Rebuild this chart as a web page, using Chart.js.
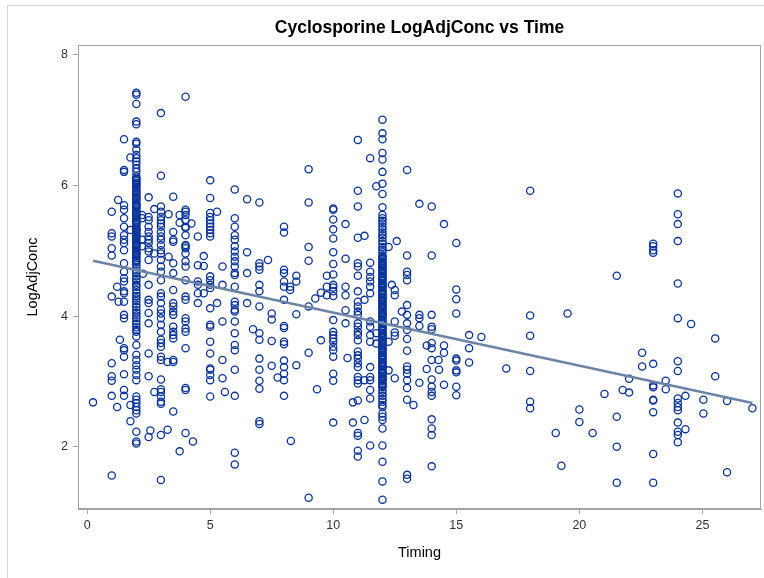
<!DOCTYPE html>
<html>
<head>
<meta charset="utf-8">
<script src="https://cdn.jsdelivr.net/npm/chart.js@4"></script>
<style>
  html, body { margin: 0; padding: 0; background: #fff; }
  #wrap { position: relative; width: 764px; height: 578px; overflow: hidden; }
  #frame { position: absolute; left: 7px; top: 5px; width: 800px; height: 600px; border: 1px solid #d6d6d6; }
  canvas { position: absolute; left: 0; top: 0; }
</style>
</head>
<body>
<div id="wrap">
  <div id="frame"></div>
  <canvas id="grafico" width="764" height="578"></canvas>
</div>
<script>
// LogAdjConc por columna de Timing
const y_t1 = [5.60, 5.27, 5.22, 5.04, 4.93, 4.30, 3.28, 3.08, 3.01, 2.78, 1.56];
const y_t1_5 = [6.71, 6.24, 6.21, 5.70, 5.63, 5.50, 5.37, 5.24, 5.17, 5.12, 5.01, 4.81, 4.68, 4.58, 4.53, 4.38, 4.35, 4.22, 4.02, 3.97, 3.51, 3.48, 3.38, 3.11, 2.87, 2.78];
const y_t2 = [7.42, 7.39, 7.25, 6.98, 6.94, 6.67, 6.64, 6.55, 6.47, 6.42, 6.37, 6.32, 6.26, 6.21, 6.14,
    6.09, 6.04, 6.01, 5.95, 5.92, 5.86, 5.83, 5.79, 5.73, 5.70, 5.66, 5.60, 5.57, 5.53, 5.47, 5.44, 5.40, 5.34, 5.31, 5.27,
    5.22, 5.18, 5.12, 5.09, 5.05, 4.99, 4.96, 4.92, 4.86, 4.83, 4.79, 4.75, 4.70, 4.66, 4.61, 4.57, 4.53, 4.48, 4.45, 4.40,
    4.35, 4.31, 4.27, 4.23, 4.18, 4.14, 4.09, 4.05, 4.01, 3.97, 3.92, 3.88, 3.83, 3.79, 3.76,
    3.69, 3.56, 3.41, 3.33, 3.25, 3.18, 3.10, 3.02, 2.77, 2.72, 2.67, 2.61, 2.56, 2.51, 2.23, 2.08, 2.05];
// valores repetidos en la parte más cargada de la columna de 2 h
const y_t2_b = [6.11, 6.07, 6.02, 5.98, 5.90, 5.88, 5.81, 5.76, 5.71, 5.68, 5.63, 5.59, 5.55, 5.50, 5.45, 5.42, 5.37, 5.33,
    5.29, 5.24, 5.20, 5.15, 5.10, 5.07, 5.02, 4.97, 4.94, 4.89, 4.85];
const y_t2_5 = [5.82, 5.52, 5.47, 5.37, 5.29, 5.22, 5.17, 5.12, 5.04, 4.99, 4.86, 4.48, 4.25, 4.20, 4.05, 3.89, 3.43, 3.08, 2.15];
const y_t3 = [7.11, 6.15, 5.68, 5.60, 5.52, 5.47, 5.42, 5.37, 5.29, 5.22, 5.17, 5.09, 5.01, 4.96, 4.86, 4.76, 4.68, 4.55, 4.35, 4.30,
    4.20, 4.10, 4.04, 3.97, 3.87, 3.76, 3.64, 3.59, 3.53, 3.38, 3.33, 3.03, 2.88, 2.84, 2.77, 2.69, 2.66, 2.18, 1.49];
const y_t3_5 = [5.83, 5.29, 5.17, 5.14, 4.81, 4.66, 4.40, 4.20, 4.15, 4.07, 4.02, 3.84, 3.76, 3.71, 3.66, 3.33, 3.30, 2.54];
const y_t4 = [7.36, 5.63, 5.60, 5.55, 5.47, 5.37, 5.35, 5.24, 5.09, 5.07, 5.04, 4.96, 4.84, 4.76, 4.55, 4.30, 4.25, 3.97, 3.92, 3.81, 3.76, 3.51, 2.90, 2.87, 2.21];
const y_t4_5 = [5.22, 4.78, 4.53, 4.48, 4.35, 4.20];
const y_t5 = [6.08, 5.81, 5.58, 5.52, 5.47, 5.42, 5.37, 5.32, 5.27, 5.22, 4.61, 4.55, 4.48, 4.43, 4.12, 3.87, 3.84, 3.61, 3.43, 3.20, 3.18, 3.10, 3.02, 2.77];
const y_t5_5 = [4.76, 4.48, 3.92, 3.33, 3.05];
const y_t6 = [5.94, 5.50, 5.37, 5.24, 5.17, 5.07, 4.99, 4.91, 4.84, 4.76, 4.66, 4.63, 4.45, 4.22, 4.17, 4.10, 4.07, 3.92, 3.74, 3.56, 3.48, 3.18, 2.78, 1.91, 1.73];
const y_t6_5 = [5.79, 4.98, 4.66, 4.20];
const y_t7 = [5.74, 4.81, 4.76, 4.71, 4.48, 4.38, 4.15, 3.74, 3.64, 3.35, 3.18, 3.01, 2.89, 2.39, 2.35];
const y_t7_5 = [4.04, 3.95, 3.62, 3.24];
const y_t8 = [5.37, 5.28, 4.71, 4.66, 4.53, 4.45, 4.25, 3.85, 3.82, 3.61, 3.57, 3.32, 3.22, 3.12, 3.02, 2.78];
const y_t8_5 = [4.62, 4.53, 4.03, 3.25];
const y_t9 = [6.25, 5.74, 5.06, 4.85, 4.15, 3.44, 1.22];
const y_t10 = [5.65, 5.63, 5.48, 5.33, 5.19, 4.98, 4.80, 4.64, 4.48, 4.44, 4.38, 4.31, 3.94, 3.76, 3.71, 3.66, 3.61, 3.53, 3.48, 3.38, 3.12, 3.01, 2.37];
const y_t10_5 = [5.41, 4.88, 4.45, 4.32, 4.09, 3.89];
const y_t11 = [6.70, 5.92, 5.68, 5.20, 4.81, 4.76, 4.62, 4.38, 4.22, 4.15, 4.07, 4.02, 3.89, 3.84, 3.76, 3.71, 3.63, 3.46, 3.40, 3.35,
    3.28, 3.22, 3.07, 3.02, 2.97, 2.71, 2.21, 2.17, 1.94, 1.85];
const y_t11_5 = [6.42, 4.82, 4.68, 4.60, 4.53, 4.45, 4.35, 3.92, 3.84, 3.71, 3.61, 3.22, 3.07, 3.02, 2.87, 2.74, 2.02];
const y_t12 = [7.01, 6.80, 6.71, 6.50, 6.40, 6.21, 6.03, 5.87, 5.67, 5.55,
    5.50, 5.46, 5.42, 5.37, 5.33, 5.28, 5.24, 5.20, 5.15, 5.11, 5.06, 5.02, 4.98, 4.93, 4.89, 4.84, 4.80, 4.76, 4.71, 4.67,
    4.62, 4.58, 4.54, 4.49, 4.45, 4.40, 4.36, 4.32, 4.27, 4.23, 4.18, 4.14, 4.10, 4.05, 4.01, 3.96, 3.92, 3.88, 3.83, 3.79,
    3.74, 3.70, 3.66, 3.61, 3.57, 3.52, 3.48, 3.44, 3.39, 3.35, 3.30, 3.26, 3.22, 3.17, 3.13, 3.08, 3.04, 3.00, 2.95, 2.91,
    2.86, 2.82, 2.78, 2.73, 2.69, 2.64, 2.61,
    2.51, 2.46, 2.41, 2.28, 2.02, 1.77, 1.47, 1.19];
// valores repetidos en la parte más cargada de la columna de 12 h
const y_t12_b = [4.91, 4.87, 4.82, 4.78, 4.73, 4.69, 4.65, 4.60, 4.56, 4.51, 4.47, 4.43, 4.38, 4.34, 4.29, 4.25, 4.21, 4.16,
    4.12, 4.07, 4.03, 3.99, 3.94, 3.90, 3.85, 3.81, 3.77, 3.72, 3.68, 3.63, 3.59, 3.55, 3.50, 3.46, 3.41, 3.37, 3.33, 3.28,
    3.24, 3.19, 3.15, 3.11, 3.06, 3.02, 2.97, 2.93];
const y_t12_5 = [4.40, 4.32, 3.92, 3.75, 3.70, 3.05];
const y_t13 = [6.24, 4.93, 4.68, 4.63, 4.55, 4.17, 4.02, 3.89, 3.79, 3.65, 3.47, 3.23, 3.18, 3.12, 3.02, 2.90, 2.72, 1.57, 1.51];
const y_t13_5 = [5.72, 4.02, 3.97, 3.85, 2.98];
const y_t14 = [5.68, 4.93, 4.02, 3.84, 3.80, 3.59, 3.51, 3.33, 3.03, 2.92, 2.84, 2.78, 2.42, 2.28, 2.18, 1.70];
const y_t14_5 = [5.41, 3.55, 3.44, 2.95];
const y_t15 = [5.12, 4.41, 4.26, 4.04, 3.35, 3.32, 3.17, 3.14, 2.92, 2.79];
const y_t18 = [5.92, 4.01, 3.70, 3.16, 2.69, 2.59];
const y_t23 = [5.11, 5.07, 5.01, 4.97, 3.27, 2.94, 2.91, 2.72, 2.71, 2.53, 1.89, 1.45];
const y_t24 = [5.88, 5.56, 5.41, 5.15, 4.50, 3.97, 3.31, 3.16, 2.74, 2.67, 2.61, 2.56, 2.37, 2.23, 2.18, 2.07];

// Puntos sueltos fuera de las columnas
const otherX = [0.24, 1.76, 1.26, 1.76, 2.23, 2.23, 2.23, 2.23, 1.22, 1.22, 1.33, 1.28, 1.76, 1.76, 2.27,
    2.57, 2.73, 2.73, 2.73, 3.27, 3.27, 3.31, 3.31, 3.76, 3.76, 3.76, 4.24, 4.30, 4.74, 4.74, 4.74,
    5.28, 5.28, 5.60, 6.74, 7.35, 7.74, 8.25, 8.25, 8.28, 9.27, 9.34, 9.50, 9.50, 9.74, 9.74, 9.74,
    10.58, 10.80, 10.80, 11.27, 11.27, 11.27, 11.27, 11.75, 11.75, 11.75, 12.25, 12.25, 12.25, 12.38,
    12.58, 12.79, 13.26, 13.80, 13.80, 14.28, 14.30, 15.52, 15.52, 15.52, 16.02, 17.03,
    19.04, 19.27, 19.52, 20.00, 20.00, 20.54, 21.02, 21.52, 21.52, 21.52, 21.52, 21.76, 22.02, 22.02,
    22.55, 22.55, 23.51, 23.51, 24.31, 24.31, 24.54, 25.04, 25.04, 25.52, 25.52, 26.00, 26.00, 27.03];
const otherY = [2.68, 6.43, 5.78, 5.32, 5.55, 5.50, 5.17, 5.07, 4.45, 2.61, 3.64, 4.22, 2.64, 2.39, 4.65,
    2.25, 2.84, 5.64, 4.96, 2.26, 3.30, 5.56, 4.91, 5.55, 5.43, 1.93, 5.42, 2.08, 4.92, 4.77, 4.35,
    5.60, 4.20, 2.84, 3.80, 4.86, 3.06, 4.45, 4.40, 2.09, 4.27, 2.88, 4.36, 3.63, 4.62, 4.45, 4.32,
    3.36, 2.68, 2.37, 5.23, 2.41, 3.02, 4.25, 5.99, 3.58, 3.74, 5.06, 3.17, 3.61, 4.48,
    5.15, 4.07, 2.64, 3.55, 3.19, 3.33, 3.18, 3.71, 3.51, 3.29, 3.68, 3.20,
    2.21, 1.71, 4.04, 2.57, 2.38, 2.21, 2.81, 4.62, 2.46, 2.00, 1.45, 2.87, 2.83, 3.04,
    3.44, 3.23, 3.01, 2.88, 2.78, 2.27, 3.88, 2.72, 2.51, 3.66, 3.08, 2.70, 1.61, 2.59];

// Recta de regresión
const fitX = [0.24, 27.03];
const fitY = [4.85, 2.67];

// Ejes
const xTicks = [0, 5, 10, 15, 20, 25];
const yTicks = [2, 4, 6, 8];

const puntos = [];
function addColumna(t, valores) {
    valores.forEach(v => puntos.push({ x: t, y: v }));
}
addColumna(1, y_t1); addColumna(1.5, y_t1_5); addColumna(2, y_t2); addColumna(2, y_t2_b); addColumna(2.5, y_t2_5);
addColumna(3, y_t3); addColumna(3.5, y_t3_5); addColumna(4, y_t4); addColumna(4.5, y_t4_5);
addColumna(5, y_t5); addColumna(5.5, y_t5_5); addColumna(6, y_t6); addColumna(6.5, y_t6_5);
addColumna(7, y_t7); addColumna(7.5, y_t7_5); addColumna(8, y_t8); addColumna(8.5, y_t8_5);
addColumna(9, y_t9); addColumna(10, y_t10); addColumna(10.5, y_t10_5); addColumna(11, y_t11);
addColumna(11.5, y_t11_5); addColumna(12, y_t12); addColumna(12, y_t12_b); addColumna(12.5, y_t12_5); addColumna(13, y_t13);
addColumna(13.5, y_t13_5); addColumna(14, y_t14); addColumna(14.5, y_t14_5); addColumna(15, y_t15);
addColumna(18, y_t18); addColumna(23, y_t23); addColumna(24, y_t24);
otherX.forEach((x, i) => puntos.push({ x: x, y: otherY[i] }));

const recta = fitX.map((x, i) => ({ x: x, y: fitY[i] }));

const FUENTE = '"Liberation Sans", Arial, sans-serif';
const GRIS = '#a3a3a3';

// Caja del área y título
const marco = {
    id: 'marco',
    beforeDatasetsDraw(chart) {
        const { ctx, chartArea: a } = chart;
        ctx.save();
        ctx.strokeStyle = GRIS;
        ctx.lineWidth = 1;
        ctx.strokeRect(a.left + 0.5, a.top + 0.5, a.right - a.left - 1, a.bottom - a.top - 1);
        ctx.restore();
    },
    afterDraw(chart) {
        const { ctx, chartArea: a } = chart;
        ctx.save();
        ctx.font = 'bold 17.5px ' + FUENTE;
        ctx.fillStyle = '#000';
        ctx.textAlign = 'center';
        ctx.textBaseline = 'middle';
        ctx.fillText('Cyclosporine LogAdjConc vs Time', (a.left + a.right) / 2, 28);
        ctx.restore();
    }
};

const ctx = document.getElementById('grafico').getContext('2d');
const grafico = new Chart(ctx, {
    type: 'scatter',
    data: {
        datasets: [{
            type: 'line',
            data: recta,
            borderColor: '#6c84a7',
            borderWidth: 2.5,
            pointRadius: 0,
            fill: false,
            order: 0
        }, {
            data: puntos,
            pointStyle: 'circle',
            pointRadius: 3.6,
            pointBorderWidth: 1.3,
            borderColor: '#0a3499',
            backgroundColor: 'rgba(0,0,0,0)',
            order: 1
        }]
    },
    plugins: [marco],
    options: {
        responsive: false,
        animation: false,
        devicePixelRatio: 1,
        layout: { padding: { top: 45, right: 3, bottom: 0, left: 0 }, autoPadding: false },
        plugins: {
            legend: { display: false },
            tooltip: { enabled: false }
        },
        scales: {
            x: {
                type: 'linear',
                min: -0.37,
                max: 27.38,
                afterBuildTicks: s => { s.ticks = xTicks.map(v => ({ value: v })); },
                afterFit: s => { s.height = 69; },
                grid: { drawOnChartArea: false, drawTicks: true, tickLength: 5, color: GRIS },
                border: { display: true, color: GRIS },
                ticks: { color: '#333', font: { family: FUENTE, size: 12.5 }, padding: 4, maxRotation: 0 },
                title: { display: true, text: 'Timing', color: '#000', font: { family: FUENTE, size: 14.5 }, padding: { top: 4, bottom: 16 } }
            },
            y: {
                type: 'linear',
                min: 1.047,
                max: 8.153,
                afterBuildTicks: s => { s.ticks = yTicks.map(v => ({ value: v })); },
                afterFit: s => { s.width = 78; },
                grid: { drawOnChartArea: false, drawTicks: true, tickLength: 5, color: GRIS },
                border: { display: true, color: GRIS },
                ticks: { color: '#333', font: { family: FUENTE, size: 12.5 }, padding: 5 },
                title: { display: true, text: 'LogAdjConc', color: '#000', font: { family: FUENTE, size: 14.5 }, padding: { top: 24, bottom: 0 } }
            }
        }
    }
});
</script>
</body>
</html>
